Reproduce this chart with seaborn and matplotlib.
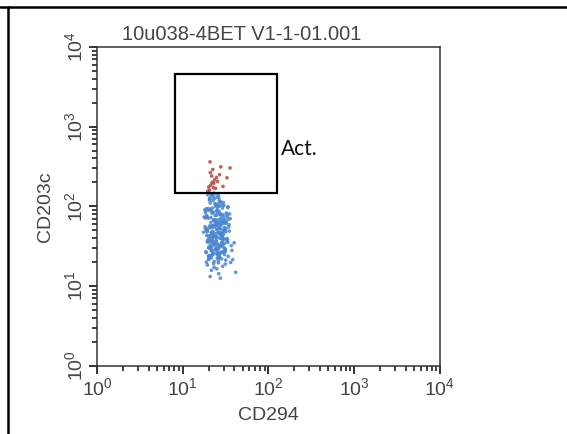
import pandas as pd
import seaborn as sns
import matplotlib.pyplot as plt
from matplotlib.lines import Line2D
from matplotlib.patches import Rectangle

# event values (CD294 on x, CD203c on y)
blue_x = [
    20.5, 24.1, 18.7, 27.3, 31.2, 22.8, 19.6, 25.9, 29.4, 21.3,
    23.7, 33.5, 18.2, 26.4, 20.9, 28.8, 24.6, 30.7, 22.1, 19.3,
    27.9, 25.2, 34.6, 21.8, 23.3, 18.9, 29.9, 26.8, 20.2, 32.4,
    24.9, 22.5, 28.1, 19.9, 35.8, 25.6, 21.1, 30.1, 23.9, 27.1,
    18.4, 26.1, 31.9, 22.9, 20.6, 29.1, 24.3, 33.0, 21.6, 25.4,
    28.5, 19.1, 23.1, 36.9, 26.6, 20.0, 30.4, 22.3, 27.6, 24.8,
    18.6, 32.9, 25.0, 21.4, 29.6, 23.5, 19.7, 26.9, 34.1, 22.6,
    28.3, 20.8, 24.4, 31.5, 21.9, 27.0, 19.4, 25.7, 30.0, 23.0,
    17.8, 26.2, 22.0, 33.8, 28.6, 20.3, 24.0, 29.3, 21.2, 35.2,
    25.3, 19.0, 27.4, 23.6, 31.0, 22.4, 18.1, 26.5, 30.9, 24.7,
    20.7, 28.0, 23.2, 32.0, 19.8, 25.8, 21.7, 29.7, 27.7, 22.7,
    24.2, 18.3, 30.6, 26.0, 20.4, 33.3, 23.8, 28.9, 21.5, 25.1,
    19.5, 27.2, 31.7, 22.2, 24.5, 29.0, 20.1, 26.7, 34.9, 23.4,
    18.8, 25.5, 28.2, 21.0, 30.3, 27.8, 22.9, 19.2, 32.6, 24.0,
    37.5, 39.8, 21.6, 28.4, 17.5, 25.0, 30.8, 36.2, 26.3, 23.1,
    41.5, 31.4, 38.3, 20.9, 27.5, 24.9, 33.9, 22.0, 29.2, 26.0,
    21.4, 25.7, 19.8, 28.7, 23.6, 30.5, 22.2, 26.3, 18.5, 32.2,
    24.5, 20.6, 27.4, 23.1, 29.8, 21.9, 25.0, 19.3, 31.3, 26.8,
    22.7, 28.1, 20.2, 24.8, 33.6, 23.4, 27.9, 21.1, 25.9, 19.6,
    30.2, 22.5, 26.5, 24.2, 20.9, 28.9, 23.8, 18.9, 31.8, 25.3,
    21.7, 27.2, 24.6, 29.4, 22.0, 26.1, 20.4, 34.4, 23.3, 28.4,
    19.9, 25.5, 22.8, 30.9, 27.0, 21.3, 24.0, 32.8, 26.7, 20.7,
    23.9, 29.1, 22.4, 25.2, 18.7, 27.6, 21.6, 30.0, 24.4, 26.4,
    20.0, 28.2, 23.0, 31.1, 22.9, 25.8, 19.4, 27.3, 24.9, 21.8,
]
blue_y = [
    120, 45.2, 88.0, 31.5, 62.4, 25.8, 140, 52.1, 38.7, 72.3,
    28.4, 96.5, 55.6, 22.9, 110, 42.0, 67.8, 34.2, 81.5, 48.3,
    26.7, 130, 58.9, 36.1, 20.4, 76.2, 44.7, 101, 30.3, 64.5,
    51.0, 118, 39.4, 23.8, 70.1, 33.0, 92.3, 27.5, 57.4, 46.6,
    83.9, 19.6, 61.2, 35.5, 126, 40.9, 29.1, 74.8, 53.7, 24.6,
    104, 43.3, 66.0, 32.2, 86.7, 21.7, 49.5, 37.8, 113, 59.8,
    27.0, 78.5, 41.6, 136, 31.0, 54.8, 94.0, 23.2, 69.3, 47.1,
    35.0, 123, 60.3, 28.9, 85.2, 39.9, 18.4, 107, 50.2, 33.7,
    73.4, 25.3, 56.5, 98.7, 42.8, 30.8, 144, 63.6, 37.1, 80.4,
    22.4, 48.8, 115, 34.6, 68.2, 26.1, 90.1, 45.9, 29.8, 58.1,
    40.3, 77.0, 17.2, 52.9, 36.6, 99.8, 24.1, 65.2, 43.9, 132,
    31.8, 71.6, 54.2, 20.9, 88.9, 38.2, 108, 46.0, 27.8, 62.9,
    35.8, 79.6, 21.2, 57.0, 41.2, 95.3, 30.0, 118, 49.0, 66.9,
    26.4, 84.1, 44.3, 33.4, 103, 51.8, 19.1, 75.5, 37.4, 60.7,
    28.0, 34.9, 15.8, 22.0, 47.5, 16.5, 24.9, 19.8, 14.3, 42.4,
    14.9, 18.9, 21.5, 13.2, 12.6, 29.5, 23.6, 40.0, 17.7, 55.0,
    47.0, 33.8, 71.0, 26.2, 58.3, 39.1, 95.0, 29.6, 52.6, 82.4,
    36.8, 24.3, 64.1, 44.0, 112, 31.2, 77.7, 50.6, 27.3, 68.7,
    41.7, 57.9, 21.9, 87.5, 35.3, 125, 46.3, 30.5, 62.0, 38.0,
    73.9, 25.0, 54.0, 100, 43.0, 32.6, 66.4, 20.0, 48.0, 91.5,
    28.6, 59.3, 37.0, 79.0, 45.5, 138, 23.5, 55.3, 34.0, 70.6,
    42.3, 26.9, 84.5, 51.4, 31.6, 63.0, 105, 39.5, 24.8, 57.0,
    76.8, 35.7, 48.5, 29.3, 93.0, 44.7, 22.6, 61.5, 40.6, 128,
    53.3, 32.9, 68.0, 27.1, 146, 46.9, 36.3, 80.9, 25.6, 142,
]
red_x = [22.0, 23.5, 21.2, 24.8, 22.7, 20.5, 26.9, 23.0, 21.8, 29.5,
         24.1, 19.6, 22.4, 27.8, 25.5, 21.0, 32.8, 20.8, 20.1, 35.6]
red_y = [200, 215, 185, 230, 172, 160, 250, 195, 240, 178,
         168, 155, 290, 313, 205, 265, 228, 361, 175, 303]

gate_x = (8.1, 125)
gate_y = (148, 4600)
gate_name = "Act."
sample_name = "10u038-4BET V1-1-01.001"

df = pd.DataFrame({
    "CD294": blue_x + red_x,
    "CD203c": blue_y + red_y,
    "pop": ["out"] * len(blue_x) + ["act"] * len(red_x),
})

sns.set_style("ticks")
plt.rcParams["font.family"] = ["Liberation Sans", "DejaVu Sans"]
plt.rcParams["mathtext.default"] = "regular"

fig = plt.figure(figsize=(5.67, 4.34), dpi=100)
ax = fig.add_axes([0.171, 0.157, 0.605, 0.735])

sns.scatterplot(
    data=df, x="CD294", y="CD203c", hue="pop",
    palette={"out": "#4a86d0", "act": "#b5473c"},
    s=7, linewidth=0, alpha=0.85, legend=False, ax=ax,
)
ax.set_xscale("log")
ax.set_yscale("log")
ax.set_xlim(1, 1e4)
ax.set_ylim(1, 1e4)
ax.set_xticks([1, 10, 100, 1000, 10000])
ax.set_yticks([1, 10, 100, 1000, 10000])

ax.add_patch(Rectangle(
    (gate_x[0], gate_y[0]), gate_x[1] - gate_x[0], gate_y[1] - gate_y[0],
    fill=False, edgecolor="black", linewidth=1.6, zorder=3,
))
ax.text(140, 520, gate_name, fontsize=15, family=["Lato", "DejaVu Sans"],
        color="#111111", ha="left", va="center")

for sp in ax.spines.values():
    sp.set_color("#333333")
    sp.set_linewidth(1.1)
ax.tick_params(which="major", length=6, width=1.3, color="#222222",
               labelsize=14, labelcolor="#444444", pad=2)
ax.tick_params(which="minor", length=3.5, width=1.2, color="#222222")
ax.tick_params(axis="y", labelrotation=90)
for lab in ax.get_yticklabels():
    lab.set_va("center")

ax.set_xlabel("CD294", fontsize=14, color="#444444", labelpad=6)
ax.set_ylabel("CD203c", fontsize=14, color="#444444", labelpad=7)
fig.text(0.427, 0.92, sample_name, fontsize=14.5, color="#444444",
         ha="center", va="center")

# page frame lines around the scanned panel
fig.add_artist(Line2D([0, 1], [1 - 7 / 434] * 2, color="black", linewidth=1.8))
fig.add_artist(Line2D([8 / 567] * 2, [0, 1 - 7 / 434], color="black", linewidth=1.8))

fig.savefig("out.png", dpi=100, facecolor="white")
